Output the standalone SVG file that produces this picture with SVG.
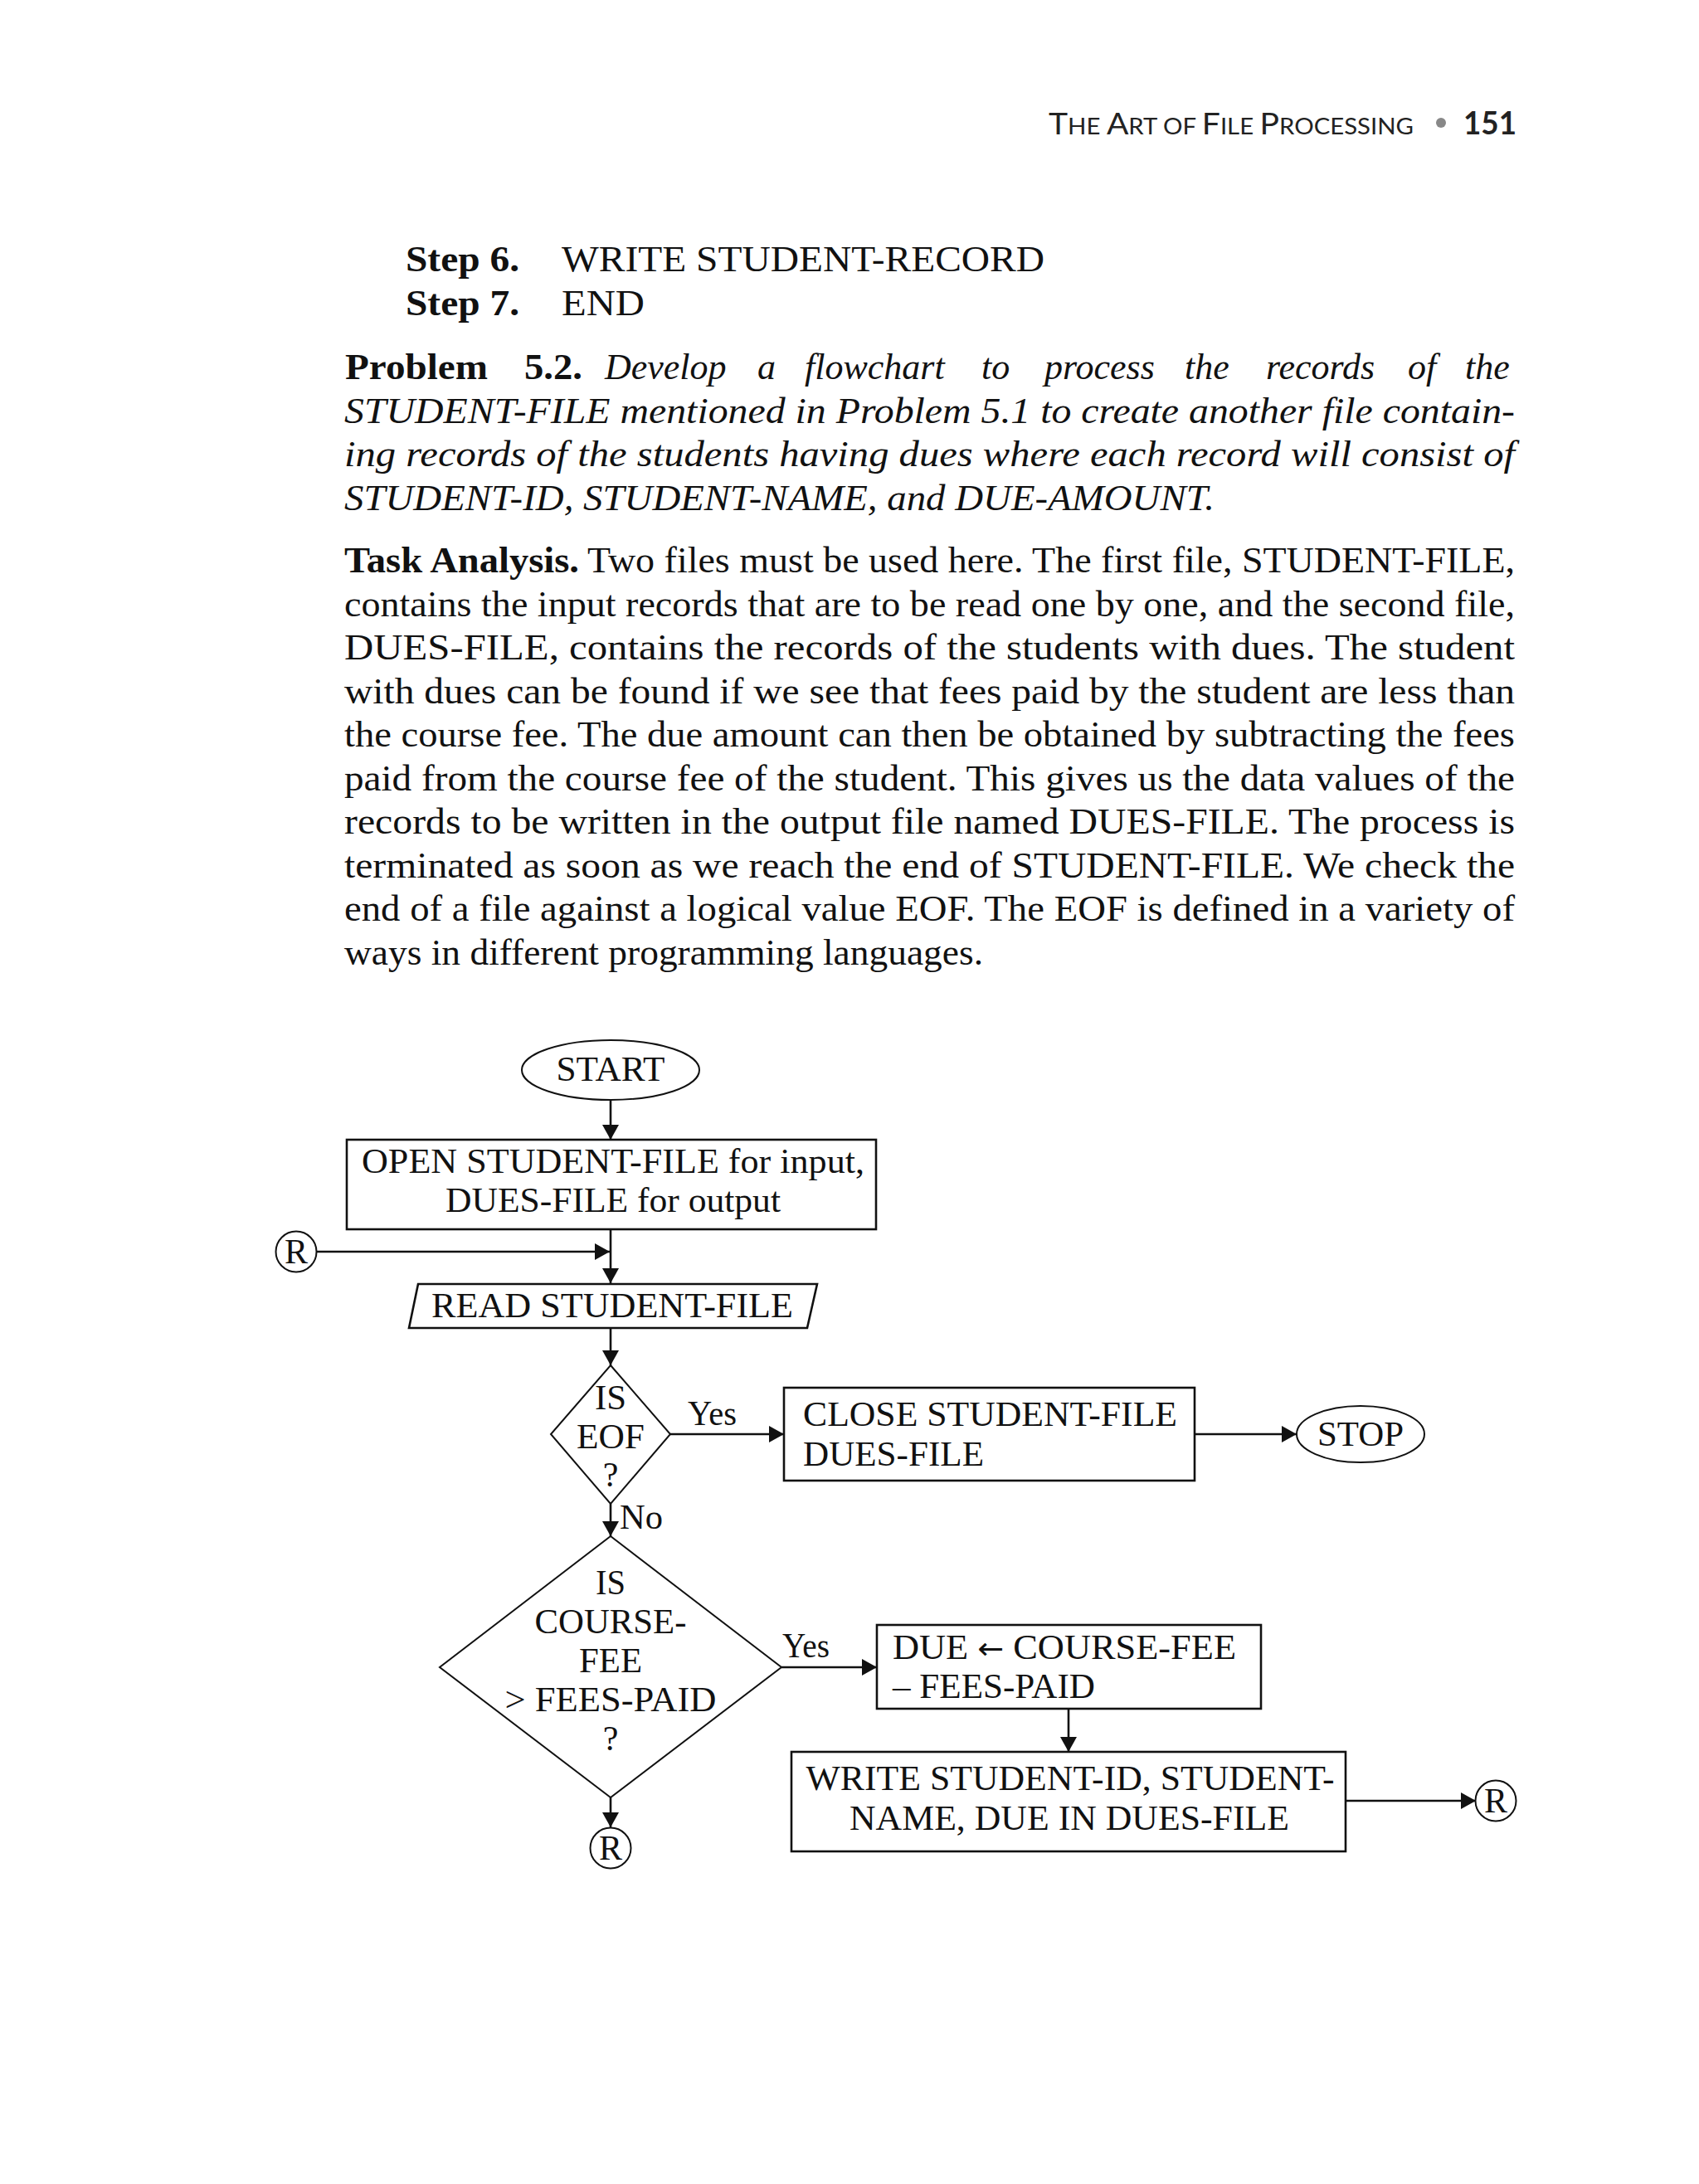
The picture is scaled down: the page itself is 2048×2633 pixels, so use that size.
<svg xmlns="http://www.w3.org/2000/svg" width="2048" height="2633" viewBox="0 0 2048 2633">
<defs>
<style>
.b{font-family:"Liberation Serif","Times New Roman",serif;font-size:44px;fill:#111}
.bold{font-weight:bold}
.it{font-style:italic}
.f{font-family:"Liberation Serif","Times New Roman",serif;font-size:42px;fill:#111}
.hdr{font-family:Lato,"Open Sans","Liberation Sans",sans-serif;fill:#222}
.box{fill:#fff;stroke:#111;stroke-width:2.6}
.thin{fill:#fff;stroke:#111;stroke-width:2}
.con{stroke:#111;stroke-width:2.6;fill:none;marker-end:url(#ah)}
.c{text-anchor:middle}
.arw{font-family:"DejaVu Sans",sans-serif}
</style>
<marker id="ah" viewBox="0 0 18 20" refX="18" refY="10" markerWidth="18" markerHeight="20" markerUnits="userSpaceOnUse" orient="auto">
<path d="M0,0 L18,10 L0,20 Z" fill="#111"/>
</marker>
</defs>
<rect width="2048" height="2633" fill="#fff"/>

<g id="header">
<text x="1264" y="162" class="hdr" textLength="440" lengthAdjust="spacingAndGlyphs"><tspan font-size="36">T</tspan><tspan font-size="27">HE </tspan><tspan font-size="36">A</tspan><tspan font-size="27">RT OF </tspan><tspan font-size="36">F</tspan><tspan font-size="27">ILE </tspan><tspan font-size="36">P</tspan><tspan font-size="27">ROCESSING</tspan></text>
<circle cx="1737" cy="148" r="6" fill="#888"/>
<text x="1764" y="162" class="hdr" font-size="38" font-weight="bold" textLength="64" lengthAdjust="spacingAndGlyphs" fill="#111">151</text>
</g>

<g id="body-text">
<text x="489" y="327" class="b bold" textLength="137" lengthAdjust="spacingAndGlyphs">Step 6.</text>
<text x="677" y="327" class="b" textLength="582" lengthAdjust="spacingAndGlyphs">WRITE STUDENT-RECORD</text>
<text x="489" y="380" class="b bold" textLength="137" lengthAdjust="spacingAndGlyphs">Step 7.</text>
<text x="677" y="380" class="b" textLength="100" lengthAdjust="spacingAndGlyphs">END</text>

<text x="416" y="457" class="b bold" textLength="172" lengthAdjust="spacingAndGlyphs">Problem</text>
<text x="632" y="457" class="b bold" textLength="70" lengthAdjust="spacingAndGlyphs">5.2.</text>
<text y="457" class="b it"><tspan x="729">Develop</tspan><tspan x="913">a</tspan><tspan x="970">flowchart</tspan><tspan x="1183">to</tspan><tspan x="1259">process</tspan><tspan x="1428">the</tspan><tspan x="1526">records</tspan><tspan x="1697">of</tspan><tspan x="1766">the</tspan></text>
<text x="415" y="510" class="b it" textLength="1411" lengthAdjust="spacingAndGlyphs">STUDENT-FILE mentioned in Problem 5.1 to create another file contain-</text>
<text x="415" y="562" class="b it" textLength="1411" lengthAdjust="spacingAndGlyphs">ing records of the students having dues where each record will consist of</text>
<text x="415" y="615" class="b it" textLength="1049" lengthAdjust="spacingAndGlyphs">STUDENT-ID, STUDENT-NAME, and DUE-AMOUNT.</text>

<text x="415" y="690" class="b bold" textLength="283" lengthAdjust="spacingAndGlyphs">Task Analysis.</text>
<text x="708" y="690" class="b" textLength="1118" lengthAdjust="spacingAndGlyphs">Two files must be used here. The first file, STUDENT-FILE,</text>
<text x="415" y="742.5" class="b" textLength="1411" lengthAdjust="spacingAndGlyphs">contains the input records that are to be read one by one, and the second file,</text>
<text x="415" y="795" class="b" textLength="1411" lengthAdjust="spacingAndGlyphs">DUES-FILE, contains the records of the students with dues. The student</text>
<text x="415" y="847.5" class="b" textLength="1411" lengthAdjust="spacingAndGlyphs">with dues can be found if we see that fees paid by the student are less than</text>
<text x="415" y="900" class="b" textLength="1411" lengthAdjust="spacingAndGlyphs">the course fee. The due amount can then be obtained by subtracting the fees</text>
<text x="415" y="952.5" class="b" textLength="1411" lengthAdjust="spacingAndGlyphs">paid from the course fee of the student. This gives us the data values of the</text>
<text x="415" y="1005" class="b" textLength="1411" lengthAdjust="spacingAndGlyphs">records to be written in the output file named DUES-FILE. The process is</text>
<text x="415" y="1057.5" class="b" textLength="1411" lengthAdjust="spacingAndGlyphs">terminated as soon as we reach the end of STUDENT-FILE. We check the</text>
<text x="415" y="1110" class="b" textLength="1411" lengthAdjust="spacingAndGlyphs">end of a file against a logical value EOF. The EOF is defined in a variety of</text>
<text x="415" y="1162.5" class="b" textLength="770" lengthAdjust="spacingAndGlyphs">ways in different programming languages.</text>
</g>

<g id="connectors">
<line class="con" x1="736" y1="1326" x2="736" y2="1374"/>
<line class="con" x1="736" y1="1482" x2="736" y2="1547"/>
<line class="con" x1="382" y1="1509" x2="735" y2="1509"/>
<line class="con" x1="736" y1="1601" x2="736" y2="1646"/>
<line class="con" x1="808" y1="1729" x2="945" y2="1729"/>
<line class="con" x1="1440" y1="1729" x2="1563" y2="1729"/>
<line class="con" x1="736" y1="1813" x2="736" y2="1852"/>
<line class="con" x1="942" y1="2010" x2="1057" y2="2010"/>
<line class="con" x1="1288" y1="2060" x2="1288" y2="2112"/>
<line class="con" x1="1622" y1="2171" x2="1779" y2="2171"/>
<line class="con" x1="736" y1="2167" x2="736" y2="2203"/>
<text x="829" y="1718" class="f" textLength="59" lengthAdjust="spacingAndGlyphs">Yes</text>
<text x="747" y="1843" class="f" textLength="52" lengthAdjust="spacingAndGlyphs">No</text>
<text x="943" y="1998" class="f" textLength="57" lengthAdjust="spacingAndGlyphs">Yes</text>
</g>

<g id="start">
<ellipse class="thin" cx="736" cy="1290" rx="107" ry="36"/>
<text x="736" y="1303" class="f c" textLength="131" lengthAdjust="spacingAndGlyphs">START</text>
</g>

<g id="open">
<rect class="box" x="418" y="1374" width="638" height="108"/>
<text x="739" y="1414" class="f c" textLength="606" lengthAdjust="spacingAndGlyphs">OPEN STUDENT-FILE for input,</text>
<text x="739" y="1461" class="f c" textLength="404" lengthAdjust="spacingAndGlyphs">DUES-FILE for output</text>
</g>

<g id="r-in">
<circle class="thin" cx="357" cy="1509" r="24.5"/>
<text x="357" y="1523" class="f c" font-size="40">R</text>
</g>

<g id="read">
<polygon class="box" points="504,1548 985,1548 973,1601 493,1601"/>
<text x="738" y="1588" class="f c" textLength="436" lengthAdjust="spacingAndGlyphs">READ STUDENT-FILE</text>
</g>

<g id="eof">
<polygon class="thin" points="736,1646 808,1729 736,1813 664,1729"/>
<text x="736" y="1699" class="f c" textLength="38" lengthAdjust="spacingAndGlyphs">IS</text>
<text x="736" y="1746" class="f c" textLength="82" lengthAdjust="spacingAndGlyphs">EOF</text>
<text x="736" y="1792" class="f c">?</text>
</g>

<g id="close">
<rect class="box" x="945" y="1673" width="495" height="112"/>
<text x="968" y="1719" class="f" textLength="451" lengthAdjust="spacingAndGlyphs">CLOSE STUDENT-FILE</text>
<text x="968" y="1767" class="f" textLength="218" lengthAdjust="spacingAndGlyphs">DUES-FILE</text>
</g>

<g id="stop">
<ellipse class="thin" cx="1640" cy="1729" rx="77" ry="34"/>
<text x="1640" y="1743" class="f c" textLength="104" lengthAdjust="spacingAndGlyphs">STOP</text>
</g>

<g id="fee-check">
<polygon class="thin" points="736,1852 942,2010 736,2167 530,2010"/>
<text x="736" y="1922" class="f c" textLength="36" lengthAdjust="spacingAndGlyphs">IS</text>
<text x="736" y="1969" class="f c" textLength="183" lengthAdjust="spacingAndGlyphs">COURSE-</text>
<text x="736" y="2016" class="f c" textLength="76" lengthAdjust="spacingAndGlyphs">FEE</text>
<text x="736" y="2063" class="f c" textLength="255" lengthAdjust="spacingAndGlyphs">&gt; FEES-PAID</text>
<text x="736" y="2110" class="f c">?</text>
</g>

<g id="due">
<rect class="box" x="1057" y="1959" width="463" height="101"/>
<text x="1076" y="2000" class="f" textLength="414" lengthAdjust="spacingAndGlyphs">DUE <tspan class="arw" font-size="36">←</tspan> COURSE-FEE</text>
<text x="1076" y="2047" class="f" textLength="244" lengthAdjust="spacingAndGlyphs">– FEES-PAID</text>
</g>

<g id="write">
<rect class="box" x="954" y="2112" width="668" height="120"/>
<text x="1290" y="2158" class="f c" textLength="637" lengthAdjust="spacingAndGlyphs">WRITE STUDENT-ID, STUDENT-</text>
<text x="1289" y="2206" class="f c" textLength="530" lengthAdjust="spacingAndGlyphs">NAME, DUE IN DUES-FILE</text>
</g>

<g id="r-out-right">
<circle class="thin" cx="1803" cy="2171" r="24.5"/>
<text x="1803" y="2185" class="f c" font-size="40">R</text>
</g>

<g id="r-out-bottom">
<circle class="thin" cx="736" cy="2228" r="24.5"/>
<text x="736" y="2242" class="f c" font-size="40">R</text>
</g>
</svg>
